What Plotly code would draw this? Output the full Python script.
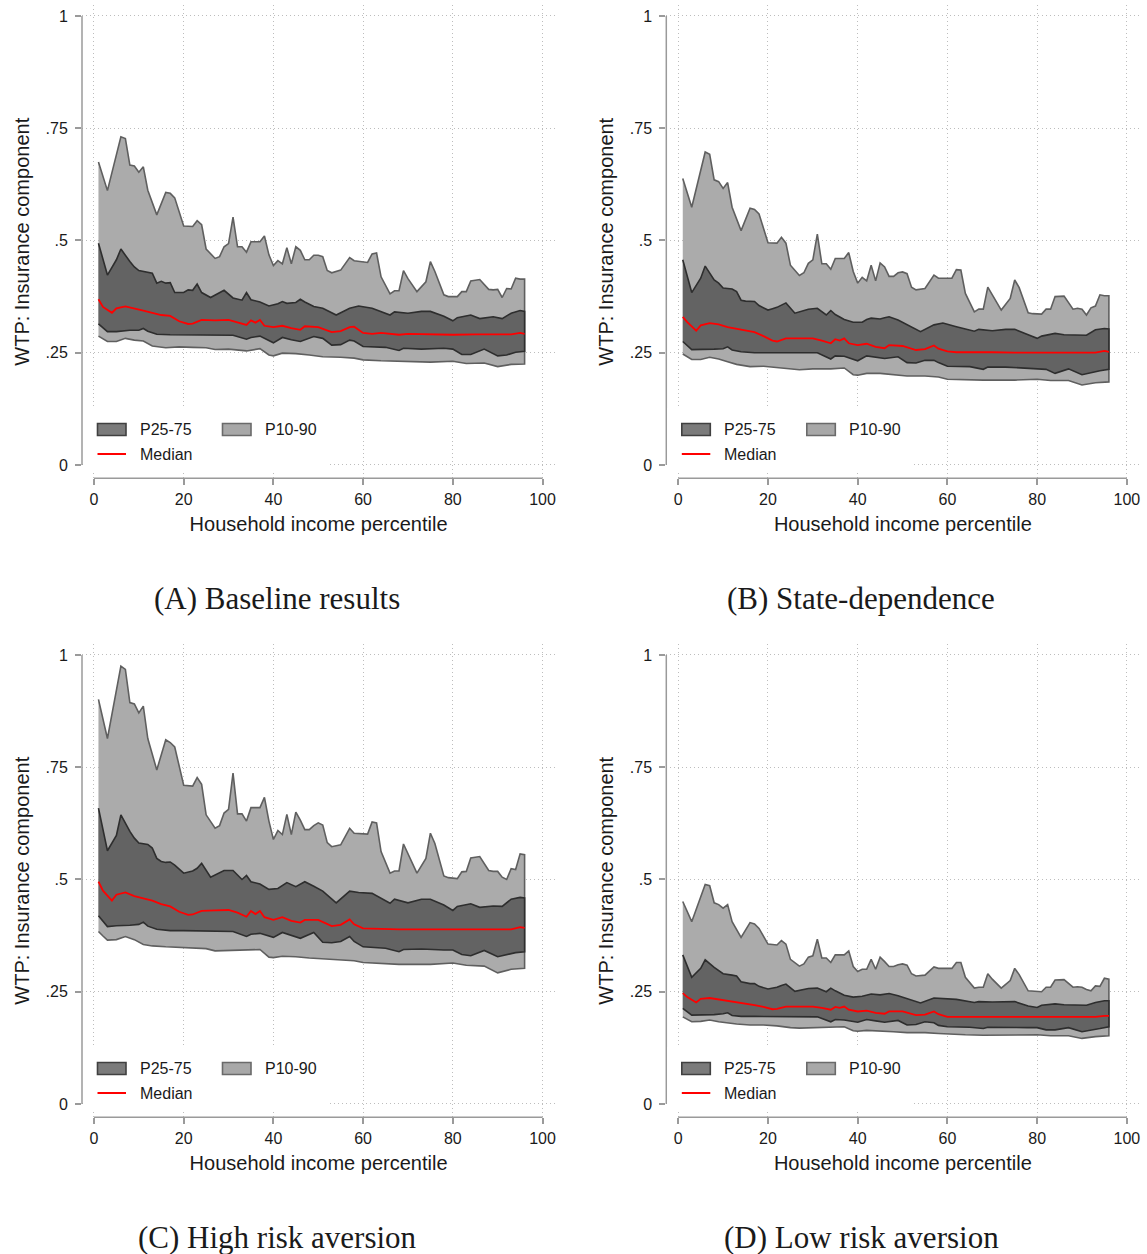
import plotly.graph_objects as go

W, H = 1147, 1254

# ---------------- data ----------------
X90 = [1, 3, 6, 7, 8, 9, 10, 11, 12, 14,
       16, 17, 18, 20, 22, 23, 24, 25, 27, 28,
       29, 30, 31, 32, 33, 34, 35, 37, 38, 39,
       40, 41, 42, 43, 44, 45, 46, 47, 48, 49,
       50, 51, 52, 53, 55, 57, 58, 61, 62, 63,
       64, 66, 67, 68, 69, 70, 72, 74, 75, 76,
       78, 79, 81, 82, 83, 84, 86, 88, 89, 90,
       91, 92, 93, 94, 95, 96]
X75 = [1, 3, 5, 6, 8, 9, 10, 12, 13, 14,
       15, 16, 17, 18, 20, 21, 22, 23, 24, 26,
       29, 31, 33, 34, 35, 37, 39, 41, 42, 43,
       45, 46, 47, 49, 51, 54, 57, 59, 62, 66,
       67, 70, 73, 75, 78, 80, 81, 84, 86, 89,
       91, 93, 95, 96]
XMED = [1, 2, 4, 5, 7, 9, 11, 13, 15, 17,
        19, 21, 22, 24, 27, 30, 32, 34, 35, 36,
        37, 38, 40, 42, 44, 46, 47, 50, 53, 55,
        57, 58, 60, 62, 64, 68, 70, 75, 80, 85,
        90, 93, 95, 96]
X25 = [1, 3, 5, 8, 10, 11, 12, 14, 17, 20,
       25, 31, 34, 35, 37, 40, 42, 44, 46, 49,
       51, 53, 55, 57, 58, 60, 65, 68, 69, 73,
       78, 80, 82, 84, 87, 90, 92, 94, 96]
X10 = [1, 2, 3, 5, 7, 9, 11, 13, 16, 19,
       22, 25, 27, 30, 34, 37, 39, 40, 42, 45,
       48, 51, 55, 58, 60, 64, 68, 75, 80, 83,
       87, 90, 93, 96]

# Panel A: Baseline results
A_P90 = [0.675, 0.611, 0.731, 0.727, 0.668, 0.666, 0.652, 0.664, 0.612, 0.557,
         0.607, 0.605, 0.595, 0.532, 0.531, 0.544, 0.535, 0.481, 0.460, 0.464,
         0.486, 0.493, 0.552, 0.486, 0.486, 0.474, 0.497, 0.497, 0.510, 0.468,
         0.444, 0.455, 0.448, 0.484, 0.448, 0.486, 0.478, 0.457, 0.457, 0.467,
         0.467, 0.464, 0.433, 0.428, 0.434, 0.462, 0.455, 0.451, 0.470, 0.472,
         0.419, 0.381, 0.388, 0.388, 0.433, 0.415, 0.386, 0.408, 0.453, 0.431,
         0.379, 0.375, 0.375, 0.386, 0.386, 0.410, 0.413, 0.391, 0.390, 0.391,
         0.373, 0.393, 0.392, 0.416, 0.414, 0.414]
A_P75 = [0.494, 0.423, 0.457, 0.481, 0.453, 0.441, 0.433, 0.428, 0.427, 0.405,
         0.409, 0.405, 0.406, 0.384, 0.384, 0.390, 0.389, 0.403, 0.384, 0.373,
         0.389, 0.372, 0.367, 0.384, 0.368, 0.363, 0.354, 0.359, 0.364, 0.360,
         0.362, 0.369, 0.363, 0.353, 0.349, 0.334, 0.349, 0.354, 0.349, 0.334,
         0.341, 0.338, 0.342, 0.342, 0.331, 0.321, 0.328, 0.334, 0.326, 0.330,
         0.326, 0.338, 0.344, 0.342]
A_MED = [0.369, 0.352, 0.339, 0.349, 0.353, 0.349, 0.344, 0.339, 0.334, 0.332,
         0.320, 0.314, 0.315, 0.323, 0.322, 0.323, 0.317, 0.312, 0.322, 0.317,
         0.323, 0.310, 0.307, 0.310, 0.305, 0.301, 0.309, 0.307, 0.296, 0.298,
         0.307, 0.308, 0.294, 0.292, 0.294, 0.290, 0.292, 0.291, 0.290, 0.291,
         0.290, 0.291, 0.294, 0.292]
A_P25 = [0.314, 0.297, 0.297, 0.300, 0.300, 0.304, 0.298, 0.291, 0.290, 0.289,
         0.289, 0.289, 0.280, 0.284, 0.287, 0.272, 0.284, 0.279, 0.275, 0.286,
         0.282, 0.267, 0.268, 0.278, 0.276, 0.264, 0.262, 0.255, 0.260, 0.258,
         0.260, 0.258, 0.246, 0.246, 0.258, 0.243, 0.245, 0.251, 0.253]
A_P10 = [0.287, 0.281, 0.275, 0.275, 0.282, 0.278, 0.276, 0.265, 0.261, 0.263,
         0.262, 0.261, 0.257, 0.258, 0.254, 0.259, 0.245, 0.243, 0.249, 0.248,
         0.245, 0.241, 0.240, 0.238, 0.234, 0.232, 0.230, 0.229, 0.231, 0.226,
         0.227, 0.219, 0.224, 0.225]

# Panel B: State-dependence
B_P90 = [0.638, 0.574, 0.697, 0.692, 0.635, 0.631, 0.616, 0.629, 0.574, 0.522,
         0.572, 0.569, 0.559, 0.495, 0.494, 0.507, 0.494, 0.445, 0.422, 0.428,
         0.449, 0.457, 0.514, 0.448, 0.448, 0.436, 0.460, 0.460, 0.473, 0.431,
         0.405, 0.418, 0.410, 0.445, 0.410, 0.450, 0.441, 0.420, 0.420, 0.428,
         0.430, 0.426, 0.396, 0.390, 0.393, 0.423, 0.416, 0.416, 0.435, 0.434,
         0.382, 0.341, 0.347, 0.347, 0.396, 0.379, 0.345, 0.371, 0.412, 0.395,
         0.339, 0.337, 0.336, 0.347, 0.347, 0.375, 0.376, 0.347, 0.349, 0.347,
         0.334, 0.350, 0.354, 0.379, 0.377, 0.377]
B_P75 = [0.457, 0.384, 0.416, 0.443, 0.412, 0.405, 0.394, 0.392, 0.386, 0.367,
         0.365, 0.364, 0.364, 0.355, 0.345, 0.348, 0.351, 0.356, 0.361, 0.338,
         0.347, 0.349, 0.334, 0.344, 0.335, 0.324, 0.318, 0.318, 0.324, 0.327,
         0.325, 0.328, 0.330, 0.323, 0.313, 0.297, 0.312, 0.316, 0.308, 0.298,
         0.302, 0.299, 0.302, 0.302, 0.290, 0.282, 0.287, 0.293, 0.290, 0.289,
         0.289, 0.301, 0.304, 0.303]
B_MED = [0.330, 0.318, 0.299, 0.311, 0.316, 0.313, 0.307, 0.303, 0.300, 0.296,
         0.287, 0.277, 0.275, 0.282, 0.282, 0.282, 0.277, 0.271, 0.280, 0.277,
         0.282, 0.271, 0.267, 0.270, 0.263, 0.260, 0.267, 0.265, 0.256, 0.258,
         0.266, 0.259, 0.253, 0.251, 0.251, 0.250, 0.251, 0.250, 0.250, 0.250,
         0.250, 0.250, 0.254, 0.252]
B_P25 = [0.275, 0.257, 0.257, 0.258, 0.259, 0.263, 0.256, 0.252, 0.250, 0.250,
         0.250, 0.250, 0.236, 0.243, 0.242, 0.232, 0.243, 0.240, 0.237, 0.241,
         0.228, 0.227, 0.233, 0.233, 0.228, 0.220, 0.219, 0.213, 0.218, 0.218,
         0.214, 0.214, 0.213, 0.204, 0.214, 0.201, 0.205, 0.210, 0.213]
B_P10 = [0.247, 0.241, 0.235, 0.235, 0.240, 0.236, 0.230, 0.224, 0.219, 0.220,
         0.218, 0.214, 0.212, 0.214, 0.214, 0.216, 0.201, 0.200, 0.204, 0.204,
         0.201, 0.198, 0.198, 0.196, 0.191, 0.190, 0.189, 0.189, 0.191, 0.188,
         0.188, 0.178, 0.183, 0.185]

# Panel C: High risk aversion
C_P90 = [0.901, 0.814, 0.975, 0.968, 0.894, 0.891, 0.871, 0.886, 0.814, 0.744,
         0.811, 0.805, 0.795, 0.710, 0.708, 0.727, 0.712, 0.644, 0.614, 0.620,
         0.648, 0.656, 0.737, 0.646, 0.646, 0.630, 0.660, 0.660, 0.683, 0.630,
         0.589, 0.609, 0.600, 0.645, 0.600, 0.650, 0.632, 0.611, 0.611, 0.620,
         0.626, 0.621, 0.582, 0.573, 0.577, 0.614, 0.603, 0.601, 0.628, 0.626,
         0.562, 0.514, 0.519, 0.519, 0.579, 0.557, 0.514, 0.547, 0.603, 0.580,
         0.508, 0.504, 0.502, 0.517, 0.518, 0.548, 0.551, 0.520, 0.518, 0.518,
         0.505, 0.500, 0.524, 0.522, 0.557, 0.555]
C_P75 = [0.659, 0.564, 0.598, 0.644, 0.607, 0.592, 0.581, 0.578, 0.570, 0.547,
         0.540, 0.538, 0.539, 0.532, 0.514, 0.517, 0.519, 0.525, 0.536, 0.505,
         0.520, 0.520, 0.500, 0.509, 0.495, 0.490, 0.478, 0.480, 0.487, 0.493,
         0.484, 0.490, 0.495, 0.485, 0.474, 0.448, 0.474, 0.471, 0.469, 0.447,
         0.456, 0.448, 0.456, 0.456, 0.443, 0.431, 0.440, 0.446, 0.438, 0.441,
         0.440, 0.456, 0.460, 0.459]
C_MED = [0.495, 0.475, 0.453, 0.466, 0.471, 0.463, 0.458, 0.453, 0.445, 0.440,
         0.428, 0.421, 0.422, 0.430, 0.431, 0.432, 0.426, 0.417, 0.430, 0.423,
         0.430, 0.416, 0.410, 0.416, 0.408, 0.404, 0.410, 0.410, 0.396, 0.399,
         0.411, 0.400, 0.391, 0.390, 0.390, 0.389, 0.389, 0.389, 0.389, 0.389,
         0.388, 0.389, 0.394, 0.392]
C_P25 = [0.419, 0.395, 0.397, 0.398, 0.400, 0.405, 0.396, 0.389, 0.386, 0.386,
         0.386, 0.384, 0.373, 0.378, 0.380, 0.371, 0.382, 0.375, 0.369, 0.382,
         0.360, 0.359, 0.362, 0.373, 0.362, 0.350, 0.347, 0.339, 0.344, 0.345,
         0.343, 0.343, 0.333, 0.330, 0.342, 0.328, 0.332, 0.337, 0.339]
C_P10 = [0.384, 0.374, 0.365, 0.366, 0.373, 0.366, 0.355, 0.352, 0.350, 0.349,
         0.347, 0.346, 0.341, 0.343, 0.343, 0.344, 0.327, 0.326, 0.329, 0.328,
         0.325, 0.322, 0.321, 0.319, 0.315, 0.313, 0.311, 0.311, 0.314, 0.309,
         0.307, 0.292, 0.300, 0.302]

# Panel D: Low risk aversion
D_P90 = [0.451, 0.406, 0.489, 0.486, 0.448, 0.444, 0.436, 0.444, 0.406, 0.371,
         0.404, 0.401, 0.391, 0.356, 0.354, 0.364, 0.356, 0.322, 0.307, 0.312,
         0.327, 0.330, 0.367, 0.325, 0.325, 0.315, 0.332, 0.332, 0.341, 0.306,
         0.295, 0.300, 0.300, 0.322, 0.300, 0.327, 0.317, 0.306, 0.306, 0.310,
         0.312, 0.309, 0.290, 0.285, 0.287, 0.305, 0.302, 0.302, 0.315, 0.315,
         0.282, 0.258, 0.260, 0.260, 0.290, 0.278, 0.258, 0.275, 0.302, 0.288,
         0.252, 0.251, 0.250, 0.260, 0.260, 0.276, 0.277, 0.260, 0.261, 0.260,
         0.255, 0.252, 0.263, 0.262, 0.280, 0.278]
D_P75 = [0.332, 0.282, 0.302, 0.321, 0.304, 0.297, 0.290, 0.287, 0.285, 0.272,
         0.270, 0.268, 0.268, 0.262, 0.256, 0.258, 0.260, 0.264, 0.267, 0.251,
         0.257, 0.258, 0.250, 0.258, 0.252, 0.242, 0.238, 0.240, 0.243, 0.245,
         0.243, 0.245, 0.246, 0.241, 0.235, 0.225, 0.236, 0.235, 0.233, 0.226,
         0.228, 0.227, 0.228, 0.228, 0.218, 0.215, 0.220, 0.223, 0.221, 0.221,
         0.220, 0.226, 0.230, 0.230]
D_MED = [0.247, 0.238, 0.226, 0.234, 0.236, 0.233, 0.230, 0.226, 0.224, 0.220,
         0.216, 0.211, 0.212, 0.217, 0.217, 0.217, 0.214, 0.210, 0.216, 0.214,
         0.217, 0.210, 0.206, 0.208, 0.203, 0.201, 0.206, 0.206, 0.198, 0.199,
         0.206, 0.200, 0.194, 0.194, 0.194, 0.194, 0.194, 0.194, 0.194, 0.194,
         0.194, 0.194, 0.196, 0.196]
D_P25 = [0.213, 0.198, 0.198, 0.199, 0.201, 0.203, 0.197, 0.195, 0.195, 0.195,
         0.195, 0.194, 0.183, 0.188, 0.187, 0.182, 0.188, 0.185, 0.182, 0.186,
         0.176, 0.177, 0.183, 0.181, 0.175, 0.172, 0.171, 0.168, 0.171, 0.171,
         0.170, 0.170, 0.165, 0.165, 0.170, 0.161, 0.164, 0.168, 0.172]
D_P10 = [0.194, 0.188, 0.183, 0.184, 0.187, 0.183, 0.180, 0.178, 0.176, 0.176,
         0.174, 0.170, 0.169, 0.171, 0.171, 0.172, 0.163, 0.162, 0.164, 0.163,
         0.161, 0.159, 0.159, 0.157, 0.155, 0.154, 0.153, 0.153, 0.154, 0.152,
         0.152, 0.146, 0.150, 0.152]

CAPTIONS = ["(A) Baseline results", "(B) State-dependence",
            "(C) High risk aversion", "(D) Low risk aversion"]
X_TICKS = [0, 20, 40, 60, 80, 100]
Y_TICKS = [0, 0.25, 0.5, 0.75, 1]
Y_TICKTEXT = ["0", ".25", ".5", ".75", "1"]
X_TITLE = "Household income percentile"
Y_TITLE = "WTP: Insurance component"
LEG_LABELS = ["P25-75", "P10-90", "Median"]

PANELS = [
    (A_P90, A_P75, A_MED, A_P25, A_P10),
    (B_P90, B_P75, B_MED, B_P25, B_P10),
    (C_P90, C_P75, C_MED, C_P25, C_P10),
    (D_P90, D_P75, D_MED, D_P25, D_P10),
]

# ---------------- styling / layout ----------------
SANS = "Liberation Sans, Arial, Helvetica, sans-serif"
SERIF = "Liberation Serif, Times New Roman, serif"
TXT = "#1a1a1a"
AXC = "#9a9a9a"
GRID = "#bdbdbd"
GRID_DASH = "1px,3px"
LIGHT_FILL, LIGHT_LINE = "#ababab", "#5f5f5f"
DARK_FILL, DARK_LINE = "#636363", "#2e2e2e"
LEG_DARK, LEG_LIGHT = "#7b7b7b", "#a8a8a8"

XR = [-2.67, 102.8]
YR = [-0.0297, 1.024]
COLS = [(82.0, 555.1), (666.3, 1139.4)]     # px
ROWS = [(5.2, 478.3), (644.2, 1117.3)]      # px (top, bottom)
ORIG = [(94.0, 465.0), (678.3, 465.0), (94.0, 1104.0), (678.3, 1104.0)]
CAP_POS = [(277, 598), (861, 598), (277, 1237), (861, 1237)]


def px(xp):
    return xp / W


def py(yp):
    return 1 - yp / H


fig = go.Figure()
shapes = []
annotations = []
layout_axes = {}

for i, (p90, p75, med, p25, p10) in enumerate(PANELS):
    n = i + 1
    sfx = "" if n == 1 else str(n)
    xa, ya = "x" + sfx, "y" + sfx
    r, c = divmod(i, 2)

    fig.add_trace(go.Scatter(
        x=X90 + X10[::-1], y=p90 + p10[::-1], xaxis=xa, yaxis=ya,
        mode="lines", fill="toself", fillcolor=LIGHT_FILL,
        line=dict(color=LIGHT_LINE, width=1.6), name="P10-90",
        showlegend=False, hoverinfo="skip"))
    fig.add_trace(go.Scatter(
        x=X75 + X25[::-1], y=p75 + p25[::-1], xaxis=xa, yaxis=ya,
        mode="lines", fill="toself", fillcolor=DARK_FILL,
        line=dict(color=DARK_LINE, width=1.6), name="P25-75",
        showlegend=False, hoverinfo="skip"))
    fig.add_trace(go.Scatter(
        x=XMED, y=med, xaxis=xa, yaxis=ya, mode="lines",
        line=dict(color="#ff0000", width=1.8), name="Median",
        showlegend=False, hoverinfo="skip"))

    layout_axes["xaxis" + sfx] = dict(
        domain=[px(COLS[c][0]), px(COLS[c][1])], range=XR, anchor=ya,
        tickvals=X_TICKS, ticks="outside", ticklen=6, tickwidth=1.5,
        tickcolor=AXC, showline=False, zeroline=False,
        showgrid=True, gridcolor=GRID, griddash=GRID_DASH, gridwidth=1,
        tickfont=dict(family=SANS, size=16, color=TXT),
        title=dict(text=X_TITLE, font=dict(family=SANS, size=20, color=TXT),
                   standoff=10))
    layout_axes["yaxis" + sfx] = dict(
        domain=[py(ROWS[r][1]), py(ROWS[r][0])], range=YR, anchor=xa,
        tickvals=Y_TICKS, ticktext=Y_TICKTEXT, ticks="outside", ticklen=6,
        tickwidth=1.5, tickcolor=AXC, showline=False, zeroline=False,
        showgrid=True, gridcolor=GRID, griddash=GRID_DASH, gridwidth=1,
        tickangle=0, ticklabelstandoff=4,
        tickfont=dict(family=SANS, size=16, color=TXT),
        title=dict(text=Y_TITLE, font=dict(family=SANS, size=20, color=TXT),
                   standoff=10))

    # axis lines (Stata style: offset from the plot region)
    shapes.append(dict(type="line", xref=xa + " domain", yref=ya,
                       x0=0, x1=0, y0=0, y1=1, layer="above",
                       line=dict(color=AXC, width=1.5)))
    shapes.append(dict(type="line", xref=xa, yref=ya + " domain",
                       x0=0, x1=100, y0=0, y1=0, layer="above",
                       line=dict(color=AXC, width=1.5)))

    # legend (inside plot, lower-left)
    ox, oy = ORIG[i]
    shapes.append(dict(type="rect", xref="paper", yref="paper",
                       x0=px(ox - 11), x1=px(ox + 234),
                       y0=py(oy + 5), y1=py(oy - 57), layer="above",
                       fillcolor="white", line=dict(width=0)))
    shapes.append(dict(type="rect", xref="paper", yref="paper",
                       x0=px(ox + 3.5), x1=px(ox + 32),
                       y0=py(oy - 29.5), y1=py(oy - 41.5), layer="above",
                       fillcolor=LEG_DARK, line=dict(color="#404040", width=1.6)))
    shapes.append(dict(type="rect", xref="paper", yref="paper",
                       x0=px(ox + 128.5), x1=px(ox + 157),
                       y0=py(oy - 29.5), y1=py(oy - 41.5), layer="above",
                       fillcolor=LEG_LIGHT, line=dict(color="#6a6a6a", width=1.6)))
    shapes.append(dict(type="line", xref="paper", yref="paper",
                       x0=px(ox + 3.5), x1=px(ox + 32),
                       y0=py(oy - 11), y1=py(oy - 11), layer="above",
                       line=dict(color="#ff0000", width=2)))
    for lab, dx, dy in [(LEG_LABELS[0], 43.5, -35.5), (LEG_LABELS[1], 168.5, -35.5),
                        (LEG_LABELS[2], 43.5, -11)]:
        annotations.append(dict(text=lab, xref="paper", yref="paper",
                                x=px(ox + dx), y=py(oy + dy), xanchor="left",
                                yanchor="middle", showarrow=False,
                                font=dict(family=SANS, size=16, color=TXT)))

    # caption
    cx, cy = CAP_POS[i]
    annotations.append(dict(text=CAPTIONS[i], xref="paper", yref="paper",
                            x=px(cx), y=py(cy), xanchor="center",
                            yanchor="middle", showarrow=False,
                            font=dict(family=SERIF, size=31, color=TXT)))

fig.update_layout(
    width=W, height=H, margin=dict(l=0, r=0, t=0, b=0),
    paper_bgcolor="white", plot_bgcolor="white", showlegend=False,
    shapes=shapes, annotations=annotations, **layout_axes)

fig.write_html("out.html", config={"displayModeBar": False})
